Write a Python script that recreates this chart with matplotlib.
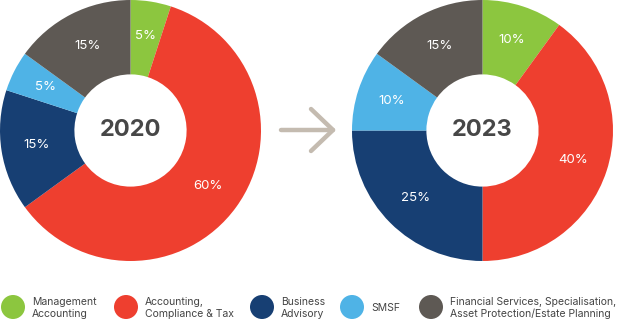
import matplotlib.pyplot as plt
from matplotlib.patches import Circle

plt.rcParams['font.family'] = ['Inter', 'DejaVu Sans']

years = ['2020', '2023']
categories = ['Management\nAccounting', 'Accounting,\nCompliance & Tax', 'Business\nAdvisory',
              'SMSF', 'Financial Services, Specialisation,\nAsset Protection/Estate Planning']
share_2020 = [5, 60, 15, 5, 15]
share_2023 = [10, 40, 25, 10, 15]
colors = ['#8cc63f', '#ee3f2f', '#173f73', '#4fb3e6', '#5e5954']

W, H = 617, 326
fig = plt.figure(figsize=(W / 100, H / 100), dpi=100)


def px_axes(x0, y0, w, h):
    # pixel box measured from the top-left corner
    return fig.add_axes([x0 / W, 1 - (y0 + h) / H, w / W, h / H])


def donut(ax, values, year):
    ax.pie(values, colors=colors, startangle=90, counterclock=False, radius=1,
           wedgeprops=dict(width=0.57, linewidth=0),
           autopct='%d%%', pctdistance=0.73,
           textprops=dict(color='white', fontsize=9.5))
    ax.text(0, 0, year, ha='center', va='center', fontsize=17, fontweight='bold', color='#474747')
    ax.set_xlim(-1, 1)
    ax.set_ylim(-1, 1)
    ax.set_aspect('equal')
    ax.axis('off')


donut(px_axes(0, 0, 261, 261), share_2020, years[0])
donut(px_axes(352, 0, 261, 261), share_2023, years[1])

# overlay for the arrow and the legend, in pixel coordinates
ov = fig.add_axes([0, 0, 1, 1])
ov.set_xlim(0, W)
ov.set_ylim(H, 0)
ov.axis('off')

arrow_c = '#c4bbb0'
ov.plot([281, 333], [130, 130], color=arrow_c, lw=3.2, solid_capstyle='round')
ov.plot([311, 333, 311], [109, 130, 151], color=arrow_c, lw=3.2,
        solid_capstyle='round', solid_joinstyle='round')

circle_x = [13, 126, 262, 352, 431]
for cx, c, label in zip(circle_x, colors, categories):
    ov.add_patch(Circle((cx, 307), 12, color=c, lw=0))
    ov.text(cx + 19, 308, label, ha='left', va='center', fontsize=7.5,
            color='#444444', linespacing=1.15)

fig.savefig('out.png', dpi=100)
